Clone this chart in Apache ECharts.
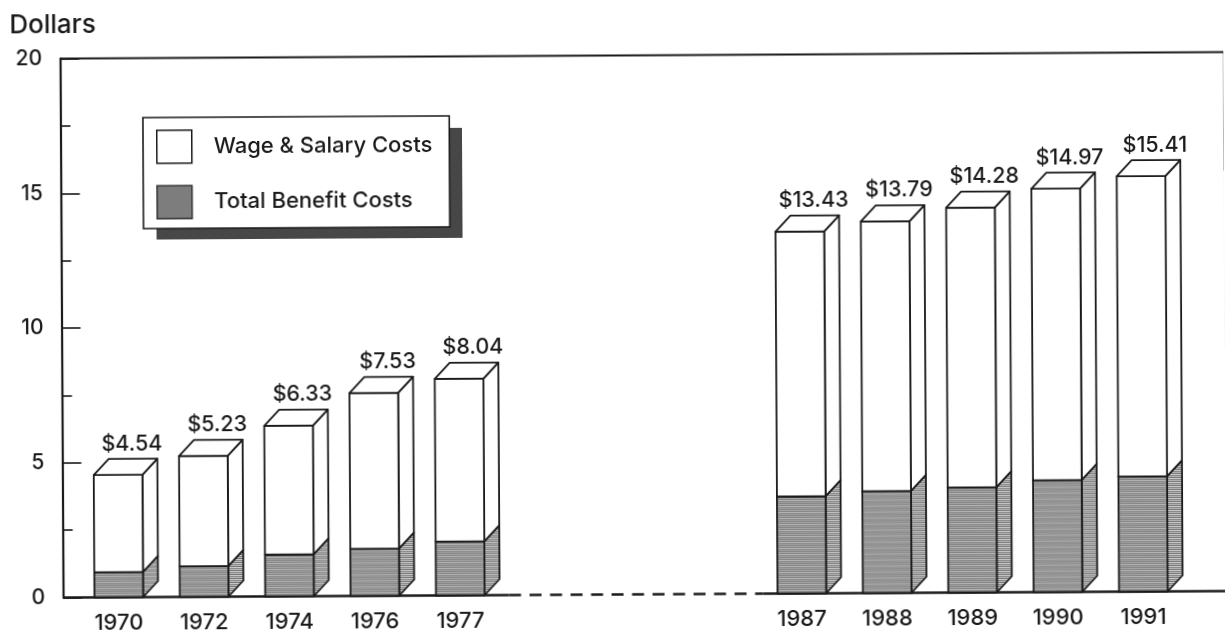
<!DOCTYPE html>
<html><head><meta charset="utf-8">
<script src="https://cdn.jsdelivr.net/npm/echarts@6/dist/echarts.min.js"></script>
<style>
html,body{margin:0;padding:0;background:#fff;overflow:hidden}
#c{width:1225px;height:630px;transform:rotate(-0.32deg);transform-origin:612px 315px}
</style></head><body><div id="c"></div>
<script>
const categories = ['1970','1972','1974','1976','1977','','','','1987','1988','1989','1990','1991'];
const totalCosts = [4.54,5.23,6.33,7.53,8.04,null,null,null,13.43,13.79,14.28,14.97,15.41];
const benefitCosts = [0.93,1.14,1.55,1.75,2.0,null,null,null,3.6,3.78,3.9,4.15,4.27];
const totalLabels = ['$4.54','$5.23','$6.33','$7.53','$8.04','','','','$13.43','$13.79','$14.28','$14.97','$15.41'];
const yTicks = [0,5,10,15,20];
const baselineSolid = [[0,0],[446,0],null,[700,0],[1164,0]];
const baselineDashed = [[446,0],[700,0]];
const frameTop = [[0,20],[1164,20]];
const frameRightDark = [[1164,20],[1164,15.6]];
const frameRightFaint = [[1164,15.6],[1164,9]];

const FONT = 'Inter, "Liberation Sans", Arial, sans-serif';
const INK = '#1a1a1a';

function stripes(rows){
  const cv = document.createElement('canvas');
  cv.width = 4; cv.height = rows.length;
  const g = cv.getContext('2d');
  rows.forEach((c,i)=>{g.fillStyle=c;g.fillRect(0,i,4,1);});
  return {image:cv,repeat:'repeat'};
}
const frontFill = stripes(['#868686','#a4a4a4','#858585','#b4b4b4','#8c8c8c','#9c9c9c']);
const sideFill = stripes(['#6e6e6e','#d2d2d2','#828282','#bcbcbc']);

const DX = 15, DY = 16, BAR = 0.57;

function segment(params, api, low, high, fill, side, withTop, label){
  const c = api.coord([api.value(0), low]);
  const t = api.coord([api.value(0), high]);
  const w = api.size([1,0])[0]*BAR;
  const x0 = c[0]-w/2, x1 = c[0]+w/2, y0 = c[1], y1 = t[1];
  const stroke = {stroke:INK, lineWidth:1.8, lineJoin:'round'};
  const kids = [
    {type:'polygon',shape:{points:[[x1,y0],[x1+DX,y0-DY],[x1+DX,y1-DY],[x1,y1]]},style:Object.assign({fill:side},stroke)},
    {type:'rect',shape:{x:x0,y:y1,width:w,height:y0-y1},style:Object.assign({fill:fill},stroke)}
  ];
  if(withTop){
    kids.push({type:'polygon',shape:{points:[[x0,y1],[x0+DX,y1-DY],[x1+DX,y1-DY],[x1,y1]]},style:Object.assign({fill:'#fff'},stroke)});
    kids.push({type:'text',style:{text:label,x:c[0]+14,y:y1-DY-15,align:'center',verticalAlign:'middle',font:'500 21.5px '+FONT,fill:INK}});
  }
  return {type:'group',children:kids};
}

const rows = categories.map((c,i)=>[c,benefitCosts[i],totalCosts[i],totalLabels[i]]).filter(r=>r[2]!==null);

const chart = echarts.init(document.getElementById('c'),null,{renderer:'canvas'});
chart.setOption({
  animation:false,
  backgroundColor:'#fff',
  textStyle:{fontFamily:FONT},
  graphic:[
    {type:'text',left:11,top:9,style:{text:'Dollars',font:'500 26px '+FONT,fill:INK}},
    {type:'rect',z:1,shape:{x:157,y:127,width:306,height:110},style:{fill:'#474747'}}
  ],
  legend:{
    orient:'vertical',left:144,top:115,z:5,
    padding:[12,17,9,13],
    icon:'rect',itemWidth:35,itemHeight:33,itemGap:21,
    backgroundColor:'#fff',borderColor:INK,borderWidth:1.6,
    selectedMode:false,
    textStyle:{fontSize:22,fontWeight:500,color:INK,fontFamily:FONT,padding:[0,0,0,17]},
    data:[
      {name:'Wage & Salary Costs',itemStyle:{color:'#fff',borderColor:INK,borderWidth:1.5}},
      {name:'Total Benefit Costs',itemStyle:{color:'#7d7d7d',borderColor:'#333',borderWidth:1.5}}
    ]
  },
  grid:[
    {left:74.5,width:1110,top:55.5,height:539,outerBoundsMode:'none'},
    {left:61.5,width:1164,top:55.5,height:539,outerBoundsMode:'none'}
  ],
  xAxis:[
    {type:'category',gridIndex:0,data:categories,axisLine:{show:false},axisTick:{show:false},
     axisLabel:{margin:15,fontSize:22,fontWeight:500,color:INK,fontFamily:FONT,interval:0}},
    {type:'value',gridIndex:1,min:0,max:1164,show:false}
  ],
  yAxis:[
    {type:'value',gridIndex:0,min:0,max:20,interval:5,offset:13,
     axisLine:{show:true,lineStyle:{color:INK,width:2.2}},
     axisTick:{show:true,inside:true,length:19,lineStyle:{color:INK,width:1.6}},
     minorTick:{show:true,splitNumber:2,length:10,lineStyle:{color:INK,width:1.6}},
     splitLine:{show:false},
     axisLabel:{margin:18,fontSize:21,fontWeight:500,color:INK,fontFamily:FONT,customValues:yTicks}},
    {type:'value',gridIndex:1,min:0,max:20,show:false}
  ],
  series:[
    {type:'line',name:'baseline',xAxisIndex:1,yAxisIndex:1,data:baselineDashed,showSymbol:false,clip:false,silent:true,
     lineStyle:{color:INK,width:2.4,type:[12,8.5]},z:1},
    {type:'line',name:'baselineSolid',xAxisIndex:1,yAxisIndex:1,data:baselineSolid.map(p=>p||'-'),showSymbol:false,clip:false,silent:true,connectNulls:false,
     lineStyle:{color:INK,width:2.4},z:1},
    {type:'line',name:'frameTop',xAxisIndex:1,yAxisIndex:1,data:frameTop,showSymbol:false,clip:false,silent:true,lineStyle:{color:INK,width:2.2},z:1},
    {type:'line',name:'frameRight',xAxisIndex:1,yAxisIndex:1,data:frameRightDark,showSymbol:false,clip:false,silent:true,lineStyle:{color:INK,width:1.6},z:1},
    {type:'line',name:'frameRightFaint',xAxisIndex:1,yAxisIndex:1,data:frameRightFaint,showSymbol:false,clip:false,silent:true,lineStyle:{color:'#e2e2e2',width:1.4},z:1},
    {type:'custom',name:'Total Benefit Costs',xAxisIndex:0,yAxisIndex:0,data:rows,z:3,
     encode:{x:0,y:1},
     renderItem:(p,api)=>segment(p,api,0,api.value(1),frontFill,sideFill,false)},
    {type:'custom',name:'Wage & Salary Costs',xAxisIndex:0,yAxisIndex:0,data:rows,z:3,
     encode:{x:0,y:2},
     renderItem:(p,api)=>segment(p,api,api.value(1),api.value(2),'#fff','#fff',true,rows[p.dataIndex][3])}
  ]
});
</script></body></html>
